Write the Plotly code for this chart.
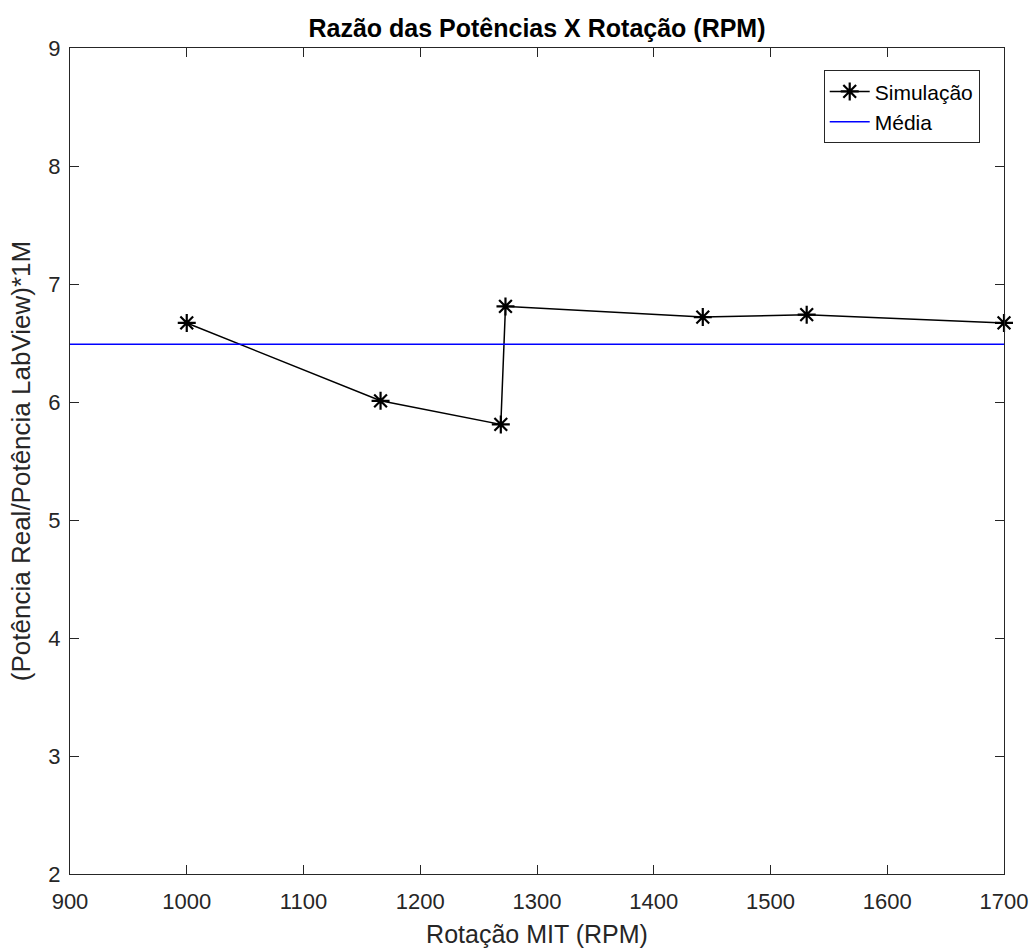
import plotly.graph_objects as go

rpm = [1000, 1166, 1269, 1273, 1442, 1531, 1700]
razao = [6.67, 6.01, 5.81, 6.81, 6.72, 6.74, 6.67]
media = sum(razao) / len(razao)

x_ticks = [900, 1000, 1100, 1200, 1300, 1400, 1500, 1600, 1700]
y_ticks = [2, 3, 4, 5, 6, 7, 8, 9]

font_family = "Liberation Sans, Arial, sans-serif"
axis_color = "#262626"

fig = go.Figure()
fig.add_trace(go.Scatter(
    x=rpm, y=razao, mode="lines+markers", name="Simulação",
    line=dict(color="black", width=1.5),
    marker=dict(symbol="asterisk-open", size=15, color="black",
                line=dict(color="black", width=2.2)),
    cliponaxis=False,
))
fig.add_trace(go.Scatter(
    x=[x_ticks[0], x_ticks[-1]], y=[media, media], mode="lines", name="Média",
    line=dict(color="#0000FF", width=1.5),
))

axis_common = dict(
    showline=True, linecolor=axis_color, linewidth=1, mirror="ticks",
    ticks="inside", ticklen=9, tickcolor=axis_color, tickwidth=1,
    showgrid=False, zeroline=False, automargin=False,
    tickfont=dict(family=font_family, size=22, color=axis_color),
)

fig.update_layout(
    width=1031, height=949,
    margin=dict(l=70, r=27, t=48, b=75),
    paper_bgcolor="white", plot_bgcolor="white",
    title=dict(text="<b>Razão das Potências X Rotação (RPM)</b>",
               x=(70 + 1004) / 2 / 1031, xanchor="center",
               y=1 - 28 / 949, yanchor="middle",
               font=dict(family=font_family, size=25, color="black")),
    xaxis=dict(range=[900, 1700], tickvals=x_ticks, ticklabelstandoff=8,
               title=dict(text="Rotação MIT (RPM)", standoff=12,
                          font=dict(family=font_family, size=25, color=axis_color)),
               **axis_common),
    yaxis=dict(range=[2, 9], tickvals=y_ticks, ticklabelstandoff=4,
               title=dict(text="(Potência Real/Potência LabView)*1M", standoff=10,
                          font=dict(family=font_family, size=26, color=axis_color)),
               **axis_common),
    legend=dict(x=0.974, xanchor="right", y=0.973, yanchor="top",
                bgcolor="white", bordercolor=axis_color, borderwidth=1,
                font=dict(family=font_family, size=21, color="black"),
                tracegroupgap=0, itemwidth=40),
    showlegend=True,
)

fig.write_html("out.html")
